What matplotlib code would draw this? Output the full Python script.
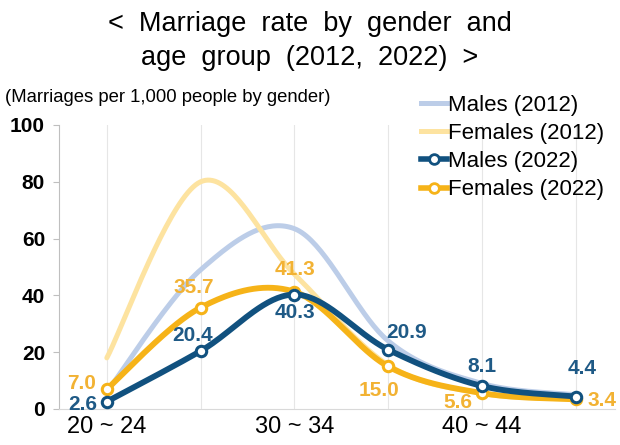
import numpy as np
import matplotlib
matplotlib.use("Agg")
import matplotlib.pyplot as plt
from matplotlib.lines import Line2D

# Age groups and marriage rates (marriages per 1,000 people by gender)
age_groups = ["20 ~ 24", "25 ~ 29", "30 ~ 34", "35 ~ 39", "40 ~ 44", "45 ~ 49"]
tick_labels = ["20 ~ 24", "", "30 ~ 34", "", "40 ~ 44", ""]
males_2012 = [6.0, 49.0, 63.5, 24.0, 9.0, 5.0]
females_2012 = [18.0, 80.0, 47.5, 15.5, 5.5, 3.5]
males_2022 = [2.6, 20.4, 40.3, 20.9, 8.1, 4.4]
females_2022 = [7.0, 35.7, 41.3, 15.0, 5.6, 3.4]

C_M12 = "#bccde8"
C_F12 = "#fde3a0"
C_M22 = "#11517f"
C_F22 = "#f6b318"
C_ML = "#1f5a86"
C_FL = "#f2b233"

FONT = ["Liberation Sans", "DejaVu Sans"]
plt.rcParams["font.family"] = FONT


def smooth(xs, ys, n=40):
    """Catmull-Rom style smoothing through every point (as spreadsheet 'smooth line')."""
    pts = np.column_stack([xs, ys]).astype(float)
    ext = np.vstack([pts[0], pts, pts[-1]])
    out = []
    t = np.linspace(0, 1, n)[:, None]
    for i in range(1, len(ext) - 2):
        p0, p1, p2, p3 = ext[i - 1], ext[i], ext[i + 1], ext[i + 2]
        c1 = p1 + (p2 - p0) / 6.0
        c2 = p2 - (p3 - p1) / 6.0
        seg = ((1 - t) ** 3) * p1 + 3 * ((1 - t) ** 2) * t * c1 + 3 * (1 - t) * t ** 2 * c2 + t ** 3 * p2
        out.append(seg if i == 1 else seg[1:])
    arr = np.vstack(out)
    return arr[:, 0], arr[:, 1]


x = np.arange(len(age_groups))

fig = plt.figure(figsize=(6.2, 4.45), dpi=100)
ax = fig.add_axes([59 / 620, 1 - 409 / 445, 556 / 620, 284 / 445])
ax.set_xlim(-0.51, 5.42)
ax.set_ylim(0, 100)

# light vertical grid at each age group
for xi in x:
    ax.axvline(xi, color="#e6e6e6", lw=0.8, zorder=0)

sx, sy = smooth(x, males_2012)
ax.plot(sx, sy, color=C_M12, lw=3.6, solid_capstyle="round", zorder=2)
sx, sy = smooth(x, females_2012)
ax.plot(sx, sy, color=C_F12, lw=3.6, solid_capstyle="round", zorder=2)
sx, sy = smooth(x, females_2022)
ax.plot(sx, sy, color=C_F22, lw=4.2, solid_capstyle="round", zorder=3)
ax.plot(x, females_2022, ls="none", marker="o", ms=7.5, mfc="white", mec=C_F22, mew=2.2, zorder=4)
sx, sy = smooth(x, males_2022)
ax.plot(sx, sy, color=C_M22, lw=4.2, solid_capstyle="round", zorder=5)
ax.plot(x, males_2022, ls="none", marker="o", ms=7.5, mfc="white", mec=C_M22, mew=2.2, zorder=6)

# data labels (offsets in pixels)
male_off = [(-24, -3), (-8, 16), (1, -18), (18, 17), (0, 19), (7, 28)]
female_off = [(-25, 6), (-7, 20), (1, 22), (-9, -24), (-24, -9), (26, -1)]
for xi, v, off in zip(x, males_2022, male_off):
    ax.annotate(f"{v:.1f}", (xi, v), xytext=off, textcoords="offset pixels",
                ha="center", va="center", fontsize=15, fontweight="bold", color=C_ML, zorder=7)
for xi, v, off in zip(x, females_2022, female_off):
    ax.annotate(f"{v:.1f}", (xi, v), xytext=off, textcoords="offset pixels",
                ha="center", va="center", fontsize=15, fontweight="bold", color=C_FL, zorder=7)

ax.set_yticks([0, 20, 40, 60, 80, 100])
ax.set_xticks(x)
ax.set_xticklabels(tick_labels, fontsize=17)
for lab in ax.get_yticklabels():
    lab.set_fontsize(15)
    lab.set_fontweight("bold")
ax.tick_params(axis="y", length=4, color="#bfbfbf", pad=6)
ax.tick_params(axis="x", length=0, pad=5)
for s in ["top", "right"]:
    ax.spines[s].set_visible(False)
ax.spines["left"].set_color("#bfbfbf")
ax.spines["bottom"].set_color("#d9d9d9")

handles = [
    Line2D([], [], color=C_M12, lw=3.6),
    Line2D([], [], color=C_F12, lw=3.6),
    Line2D([], [], color=C_M22, lw=4, marker="o", ms=7, mfc="white", mec=C_M22, mew=2),
    Line2D([], [], color=C_F22, lw=4, marker="o", ms=7, mfc="white", mec=C_F22, mew=2),
]
labels = ["Males (2012)", "Females (2012)", "Males (2022)", "Females (2022)"]
leg = fig.legend(handles, labels, loc="upper left", bbox_to_anchor=(421 / 620, 1 - 95 / 445),
                 frameon=False, fontsize=16, handlelength=1.15, handletextpad=0.05,
                 labelspacing=0.32, borderaxespad=0, borderpad=0)

fig.text(0.5, 1 - 24 / 445, "<  Marriage  rate  by  gender  and", ha="center", va="center", fontsize=19.5)
fig.text(0.5, 1 - 58 / 445, "age  group  (2012,  2022)  >", ha="center", va="center", fontsize=19.5)
fig.text(5 / 620, 1 - 97 / 445, "(Marriages per 1,000 people by gender)", ha="left", va="center",
         fontsize=13.3)

fig.savefig("out.png", dpi=100)
